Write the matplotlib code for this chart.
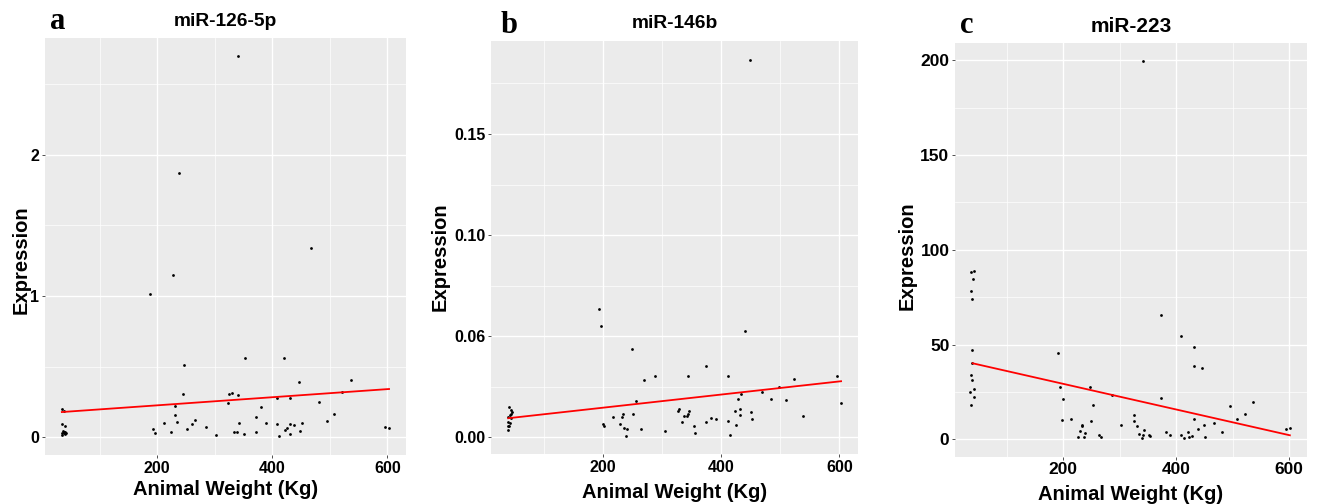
import matplotlib
matplotlib.use("Agg")
import matplotlib.pyplot as plt
from matplotlib.ticker import FixedLocator

plt.rcParams['font.family'] = ['Liberation Sans', 'DejaVu Sans']

# ---------------- data ----------------
titles = ["miR-126-5p", "miR-146b", "miR-223"]
letters = ["a", "b", "c"]
x_label = "Animal Weight (Kg)"
y_label = "Expression"

# Panel a: miR-126-5p
a_weight = [34, 37, 35, 40, 36, 38, 40, 34, 37, 39, 35, 41, 38,
            188, 237, 228, 192.5, 196.5, 211.7, 224, 230, 231, 234, 245, 247, 252,
            261, 265, 285, 302.6, 323.5, 324.7, 330, 333, 339, 340, 340, 342, 351,
            352.5, 372, 372, 380, 388.5, 408.7, 408.7, 412, 420, 422.6, 426, 430, 430,
            430.8, 437.7, 446, 448.7, 451, 467, 481.7, 495.6, 507.8, 521.7, 536, 596, 602.5]
a_expr = [0.198, 0.188, 0.092, 0.082, 0.045, 0.04, 0.035, 0.03, 0.028, 0.025, 0.02, 0.033, 0.038,
          1.014, 1.868, 1.149, 0.061, 0.028, 0.101, 0.035, 0.22, 0.155, 0.106, 0.304, 0.514, 0.061,
          0.096, 0.12, 0.071, 0.016, 0.243, 0.306, 0.311, 0.04, 0.037, 0.3, 2.696, 0.101, 0.026,
          0.559, 0.141, 0.037, 0.214, 0.101, 0.278, 0.094, 0.007, 0.559, 0.054, 0.068, 0.278, 0.096,
          0.021, 0.087, 0.389, 0.045, 0.103, 1.34, 0.252, 0.115, 0.165, 0.32, 0.405, 0.071, 0.064]
a_trend_x = [34, 603]
a_trend_y = [0.179, 0.342]

# Panel b: miR-146b
b_weight = [40, 44, 44.5, 43.5, 41.4, 39, 38.5, 42, 41, 38, 38.5, 43,
            192, 196, 249, 268.5, 288, 255.4, 251, 216.4, 231.7, 234, 227.8, 199, 201,
            235, 240.7, 264.4, 238, 305,
            439.7, 374.6, 343.6, 410.8, 596.6, 523, 497, 468.5, 433, 428.8, 483.7, 509, 603.4,
            326.6, 328.8, 345, 343, 342, 336.3, 333, 354, 355.4, 374, 383, 391, 410.8, 414.7,
            422.7, 425, 432, 432, 451, 452.5, 538, 448]
b_expr = [0.0150, 0.0134, 0.0124, 0.0115, 0.0109, 0.0102, 0.0077, 0.0069, 0.0054, 0.0054, 0.0038, 0.0095,
          0.0634, 0.0552, 0.0436, 0.0282, 0.0303, 0.0180, 0.0115, 0.0102, 0.0099, 0.0114, 0.0066, 0.0064, 0.0056,
          0.0048, 0.0040, 0.0043, 0.0008, 0.0030,
          0.0525, 0.0351, 0.0302, 0.0302, 0.0303, 0.0287, 0.0249, 0.0226, 0.0216, 0.0191, 0.0190, 0.0186, 0.0170,
          0.0130, 0.0140, 0.0129, 0.0114, 0.0105, 0.0104, 0.0074, 0.0056, 0.0021, 0.0077, 0.0094, 0.0091, 0.0079, 0.0010,
          0.0130, 0.0059, 0.0139, 0.0110, 0.0127, 0.0089, 0.0107, 0.1868]
b_trend_x = [39, 603]
b_trend_y = [0.0094, 0.0277]
b_ytick_vals = [0.0, 0.05, 0.10, 0.15]
b_ytick_text = ["0.00", "0.06", "0.10", "0.15"]

# Panel c: miR-223
c_weight = [36.7, 42.5, 39.6, 36.7, 38.5, 39, 39, 36.7, 37.9, 35.4, 42, 42.5, 36.7,
            190, 194, 199, 197, 213.6, 246.7, 253, 248.5, 286, 232.5, 233.5, 230, 239, 226, 236,
            263, 267, 303, 325, 325, 341,
            372.4, 408.9, 430.8, 430.8, 445.5, 373, 331, 342.8, 334.5, 341, 340, 352, 353.5,
            381, 389.4, 409, 413, 421, 423, 427, 430.8, 437.9, 449, 451, 466.7, 481.4,
            495.6, 507.4, 521.6, 536.3, 594.7, 601.8]
c_expr = [88.1, 88.8, 84.4, 78.3, 74.0, 47.0, 40.3, 34.1, 31.1, 25.1, 26.4, 22.3, 18.3,
          45.7, 27.4, 21.1, 10.3, 10.5, 27.8, 17.9, 9.5, 23.4, 7.4, 6.8, 4.5, 3.5, 1.2, 1.1,
          2.4, 1.4, 7.4, 12.7, 9.5, 199.5,
          65.8, 54.7, 48.9, 38.5, 37.6, 21.6, 7.2, 5.1, 3.0, 2.3, 0.8, 2.4, 1.6,
          4.0, 2.4, 2.4, 0.5, 3.7, 1.4, 1.6, 10.5, 5.3, 7.4, 1.1, 8.4, 3.7,
          17.4, 10.5, 13.2, 19.8, 5.3, 6.0]
c_trend_x = [39.6, 601]
c_trend_y = [40.1, 2.1]

x_ticks = [200, 400, 600]
x_minor = [100, 300, 500]

# ---------------- layout ----------------
W, H = 1317, 504
fig = plt.figure(figsize=(W / 100, H / 100), dpi=100)
fig.patch.set_facecolor("white")

def frac_rect(l, r, t, b):
    return [l / W, 1 - b / H, (r - l) / W, (b - t) / H]

panels = [
    dict(rect=frac_rect(45, 406, 38, 455), x=a_weight, y=a_expr, tx=a_trend_x, ty=a_trend_y,
         xlim=(4.7, 632.5), ylim=(-0.125, 2.826), yt=[0, 1, 2], ytl=["0", "1", "2"],
         ym=[0.5, 1.5, 2.5], letter_xy=(50, 29), title_y=26, xl_y=495, yl_xy=(21, 260),
         title_fs=13.8, tick_fs=11.5),
    dict(rect=frac_rect(491, 858.3, 41, 454), x=b_weight, y=b_expr, tx=b_trend_x, ty=b_trend_y,
         xlim=(9.7, 632.2), ylim=(-0.0083, 0.196), yt=b_ytick_vals, ytl=b_ytick_text,
         ym=[0.025, 0.075, 0.125, 0.175], letter_xy=(501, 33), title_y=28.5, xl_y=498, yl_xy=(440.5, 257),
         title_fs=13.8, tick_fs=11.5),
    dict(rect=frac_rect(955, 1306.7, 42.7, 456.7), x=c_weight, y=c_expr, tx=c_trend_x, ty=c_trend_y,
         xlim=(8.3, 630.8), ylim=(-9.2, 209.3), yt=[0, 50, 100, 150, 200],
         ytl=["0", "50", "100", "150", "200"], ym=[25, 75, 125, 175],
         letter_xy=(960, 33), title_y=31.5, xl_y=500, yl_xy=(907.5, 256),
         title_fs=15, tick_fs=12.5),
]

for i, p in enumerate(panels):
    ax = fig.add_axes(p["rect"])
    ax.set_facecolor("#EBEBEB")
    for s in ax.spines.values():
        s.set_visible(False)
    ax.set_xlim(*p["xlim"])
    ax.set_ylim(*p["ylim"])
    ax.xaxis.set_major_locator(FixedLocator(x_ticks))
    ax.xaxis.set_minor_locator(FixedLocator(x_minor))
    ax.yaxis.set_major_locator(FixedLocator(p["yt"]))
    ax.yaxis.set_minor_locator(FixedLocator(p["ym"]))
    ax.set_xticklabels([str(v) for v in x_ticks], fontsize=p["tick_fs"], fontweight="bold", color="black")
    ax.set_yticklabels(p["ytl"], fontsize=p["tick_fs"], fontweight="bold", color="black")
    ax.grid(which="major", color="white", linewidth=1.0)
    ax.grid(which="minor", color="white", linewidth=0.5)
    ax.set_axisbelow(True)
    ax.tick_params(which="major", length=2, width=0.6, color="#333333", pad=2)
    ax.tick_params(which="minor", length=0)
    ax.scatter(p["x"], p["y"], s=4, c="black", linewidths=0, zorder=3)
    ax.plot(p["tx"], p["ty"], color="red", linewidth=1.3, zorder=4)

    cx = (p["rect"][0] + p["rect"][2] / 2)
    fig.text(cx, 1 - p["title_y"] / H, titles[i], ha="center", va="baseline",
             fontsize=p["title_fs"], fontweight="bold")
    fig.text(cx, 1 - p["xl_y"] / H, x_label, ha="center", va="baseline",
             fontsize=14.5, fontweight="bold")
    fig.text(p["yl_xy"][0] / W, 1 - p["yl_xy"][1] / H, y_label, rotation=90,
             ha="center", va="center", fontsize=14.5, fontweight="bold")
    fig.text(p["letter_xy"][0] / W, 1 - p["letter_xy"][1] / H, letters[i],
             ha="left", va="baseline", fontsize=22, fontweight="bold",
             family=["Liberation Serif", "DejaVu Serif"])

fig.savefig("out.png", dpi=100, facecolor="white")
